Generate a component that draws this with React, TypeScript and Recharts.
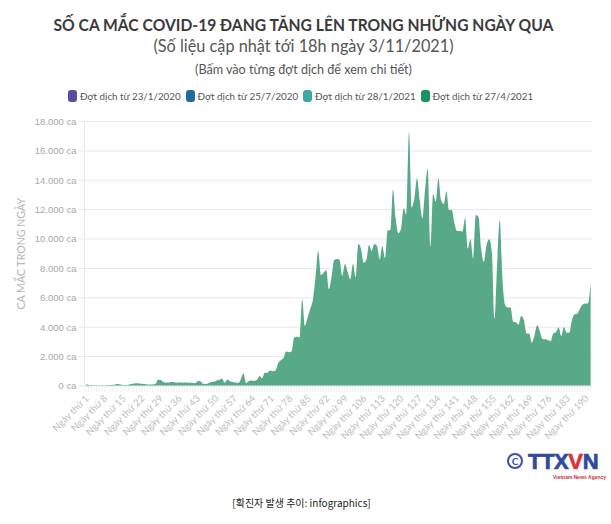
import React from "react";
import { AreaChart, Area, XAxis, YAxis, CartesianGrid, Label } from "recharts";

const FONT = "Lato, 'Noto Sans', sans-serif";

const titleText = "SỐ CA MẮC COVID-19 ĐANG TĂNG LÊN TRONG NHỮNG NGÀY QUA";
const subtitleText = "(Số liệu cập nhật tới 18h ngày 3/11/2021)";
const noteText = "(Bấm vào từng đợt dịch để xem chi tiết)";
const footerText = "[확진자 발생 추이: infographics]";

const legendLabels = [
  "Đợt dịch từ 23/1/2020",
  "Đợt dịch từ 25/7/2020",
  "Đợt dịch từ 28/1/2021",
  "Đợt dịch từ 27/4/2021",
];
const legendColors = ["#5b4a9e", "#1f6b9e", "#3aa9a1", "#0f9560"];

const yTicks = [0, 2000, 4000, 6000, 8000, 10000, 12000, 14000, 16000, 18000];

const dailyCases = [
  100, 90, 60, 40, 30, 30, 40, 40, 50, 60,
  80, 110, 130, 100, 70, 70, 90, 130, 170, 180,
  170, 150, 130, 110, 100, 110, 130, 430, 400, 270,
  230, 240, 270, 260, 220, 230, 220, 230, 220, 220,
  200, 190, 360, 300, 140, 130, 200, 280, 290, 380,
  430, 500, 230, 450, 330, 270, 240, 210, 450, 860,
  180, 340, 380, 360, 400, 680, 520, 900, 900, 1050,
  1000, 1050, 1550, 1750, 1900, 2350, 2300, 2350, 3300, 3350,
  3300, 5900, 4100, 4650, 5250, 5850, 7440, 9200, 7550, 7700,
  7900, 6600, 7440, 8570, 8650, 8600, 7500, 8300, 7780, 7260,
  8300, 7400, 9660, 9360, 8390, 8570, 9600, 9200, 9660, 9550,
  8620, 9520, 8700, 10600, 10600, 13380, 11400, 10390, 10700, 12090,
  11630, 17300, 12150, 12770, 14130, 12650, 11400, 13330, 14800, 9500,
  13070, 12550, 14130, 12650, 12380, 13250, 11970, 11970, 11070, 10540,
  10540, 10500, 11450, 9360, 9980, 8680, 11630, 11520, 9360, 8450,
  9590, 9980, 9140, 4600, 8340, 11300, 7200, 5500, 5350, 5350,
  4380, 4330, 4170, 4760, 4490, 3580, 3580, 2950, 3470, 4130,
  3700, 3200, 3180, 3130, 3040, 3580, 3650, 4000, 3400, 4000,
  3630, 3630, 4490, 4880, 4920, 5280, 5550, 5620, 5620, 7050,
];

const dayLabels = dailyCases.map((_, i) => `Ngày thứ ${i + 1}`);
const chartData = dailyCases.map((cases, i) => ({ day: dayLabels[i], cases }));

const formatCases = (v: number) =>
  `${String(v).replace(/\B(?=(\d{3})+$)/g, ".")} ca`;

const DayTick = (props: any) => {
  const { x, y, index, payload } = props;
  const showLabel = index % 7 === 0;
  const labelX = 89.5 + (x - 85.8) * 0.99;
  return (
    <g>
      <line x1={x} x2={x} y1={y - 8} y2={y - 2} stroke="#f0f0f0" strokeWidth={1} />
      {showLabel && (
        <text
          transform={`translate(${labelX},${y + 5}) rotate(-45)`}
          textAnchor="end"
          fontSize={9.6}
          fontFamily={FONT}
          fill="#bdbdbd"
        >
          {payload.value}
        </text>
      )}
    </g>
  );
};

const LegendRow = () => (
  <div
    style={{
      position: "absolute",
      top: 90,
      left: 68,
      display: "flex",
      alignItems: "center",
      fontFamily: FONT,
      fontSize: 9.8,
      color: "#555",
      whiteSpace: "nowrap",
    }}
  >
    {legendLabels.map((label, i) => (
      <span key={label} style={{ display: "flex", alignItems: "center", width: 117.5 }}>
        <span
          style={{
            width: 9,
            height: 12,
            borderRadius: 3,
            background: legendColors[i],
            marginRight: 3,
          }}
        />
        {label}
      </span>
    ))}
  </div>
);

const centered = (top: number, size: number, scaleX: number, extra: React.CSSProperties = {}): React.CSSProperties => ({
  position: "absolute",
  top,
  left: -2,
  width: 611,
  textAlign: "center",
  fontSize: size,
  lineHeight: "20px",
  fontFamily: FONT,
  whiteSpace: "nowrap",
  transform: `scaleX(${scaleX})`,
  ...extra,
});

export default function App() {
  return (
    <div style={{ position: "absolute", top: 0, left: 0, width: 611, height: 524, background: "#fff", overflow: "hidden" }}>
      <div style={centered(15, 17.5, 0.894, { fontWeight: 700, color: "#3a3a3a" })}>{titleText}</div>
      <div style={centered(36, 16.8, 0.97, { color: "#555" })}>{subtitleText}</div>
      <div style={centered(60, 12.6, 1, { color: "#555" })}>{noteText}</div>
      <LegendRow />
      <div style={{ position: "absolute", top: 0, left: 0 }}>
        <AreaChart
          width={611}
          height={524}
          data={chartData}
          margin={{ top: 121.5, right: 19, bottom: 0, left: 0 }}
        >
          <CartesianGrid horizontal vertical={false} stroke="#e8e8e8" />
          <XAxis
            dataKey="day"
            height={138}
            interval={0}
            padding={{ left: 1.35, right: 1.35 }}
            tick={<DayTick />}
            tickLine={false}
            axisLine={{ stroke: "#eeeeee" }}
          />
          <YAxis
            width={84.5}
            domain={[0, 18000]}
            ticks={yTicks}
            tickFormatter={formatCases}
            tick={{ fontSize: 9.5, fill: "#a8a8a8", fontFamily: "'Liberation Sans', sans-serif" }}
            tickLine={{ stroke: "#e8e8e8" }}
            tickSize={6}
            axisLine={{ stroke: "#e8e8e8" }}
          >
            <Label
              value="CA MẮC TRONG NGÀY"
              angle={-90}
              position="insideLeft"
              offset={21}
              style={{ fontSize: 10.6, fill: "#b5b5b5", fontFamily: FONT, textAnchor: "middle" }}
            />
          </YAxis>
          <Area
            type="monotone"
            dataKey="cases"
            stroke="none"
            fill="#58a987"
            fillOpacity={1}
            isAnimationActive={false}
            dot={false}
            activeDot={false}
          />
        </AreaChart>
      </div>
      <div style={{ position: "absolute", left: 507, top: 453, width: 12, height: 12, borderRadius: 8, border: "2px solid #3d4ea8", color: "#3d4ea8", fontFamily: FONT, fontWeight: 700, fontSize: 10, lineHeight: "12px", textAlign: "center", boxSizing: "content-box" }}>C</div>
      <div style={{ position: "absolute", left: 528, top: 451, fontFamily: "'Liberation Sans', sans-serif", fontWeight: 700, fontSize: 22, letterSpacing: -0.4, lineHeight: "22px", color: "#2f4a9e", WebkitTextStroke: "0.7px #2f4a9e", whiteSpace: "nowrap" }}>
        TTX<span style={{ color: "#d8323c", WebkitTextStroke: "0.7px #d8323c" }}>V</span>N
      </div>
      <div style={{ position: "absolute", left: 553, top: 474, fontFamily: "'Liberation Sans', sans-serif", fontWeight: 700, fontSize: 5, lineHeight: "6px", color: "#c8323c", whiteSpace: "nowrap" }}>Vietnam News Agency</div>
      <div style={centered(493, 10, 1, { fontFamily: "'Noto Sans CJK KR', sans-serif", color: "#222", left: -4 })}>{footerText}</div>
    </div>
  );
}
